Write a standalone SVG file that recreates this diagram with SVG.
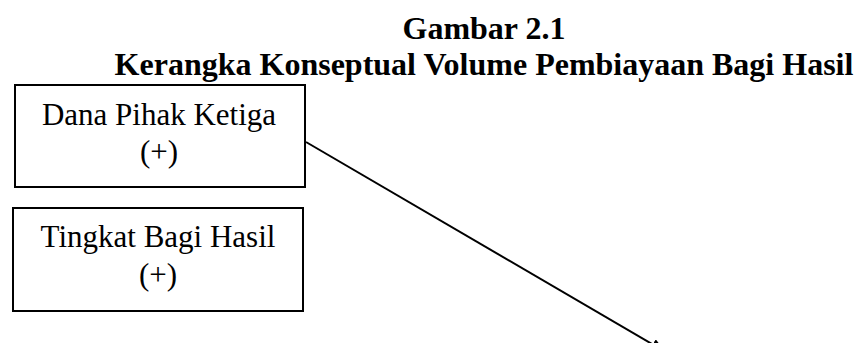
<svg xmlns="http://www.w3.org/2000/svg" width="857" height="343" viewBox="0 0 857 343">
<style>
.t{font-family:"Liberation Serif","Times New Roman",serif;fill:#000}
.h{font-weight:bold;font-size:32px}
.n{font-size:31px}
.box{fill:#fff;stroke:#000;stroke-width:2}
.c{stroke:#000;stroke-width:2;fill:none}
</style>
<defs>
<marker id="ah" markerWidth="14" markerHeight="12" refX="13" refY="6" orient="auto" markerUnits="userSpaceOnUse">
<path d="M0,0 L14,6 L0,12 z" fill="#000"/>
</marker>
</defs>
<rect width="857" height="343" fill="#fff"/>
<g id="title">
<text class="t h" x="484" y="39" text-anchor="middle">Gambar 2.1</text>
<text class="t h" x="484" y="75" text-anchor="middle">Kerangka Konseptual Volume Pembiayaan Bagi Hasil</text>
</g>
<g id="node-dpk">
<rect class="box" x="15" y="85" width="290" height="102"/>
<text class="t n" x="159" y="125" text-anchor="middle">Dana Pihak Ketiga</text>
<text class="t n" x="159" y="162" text-anchor="middle">(+)</text>
</g>
<g id="node-tbh">
<rect class="box" x="13" y="208" width="290" height="103"/>
<text class="t n" x="158" y="247" text-anchor="middle">Tingkat Bagi Hasil</text>
<text class="t n" x="158" y="285" text-anchor="middle">(+)</text>
</g>
<g id="connectors">
<line class="c" x1="306" y1="142" x2="664" y2="351" marker-end="url(#ah)"/>
</g>
</svg>
